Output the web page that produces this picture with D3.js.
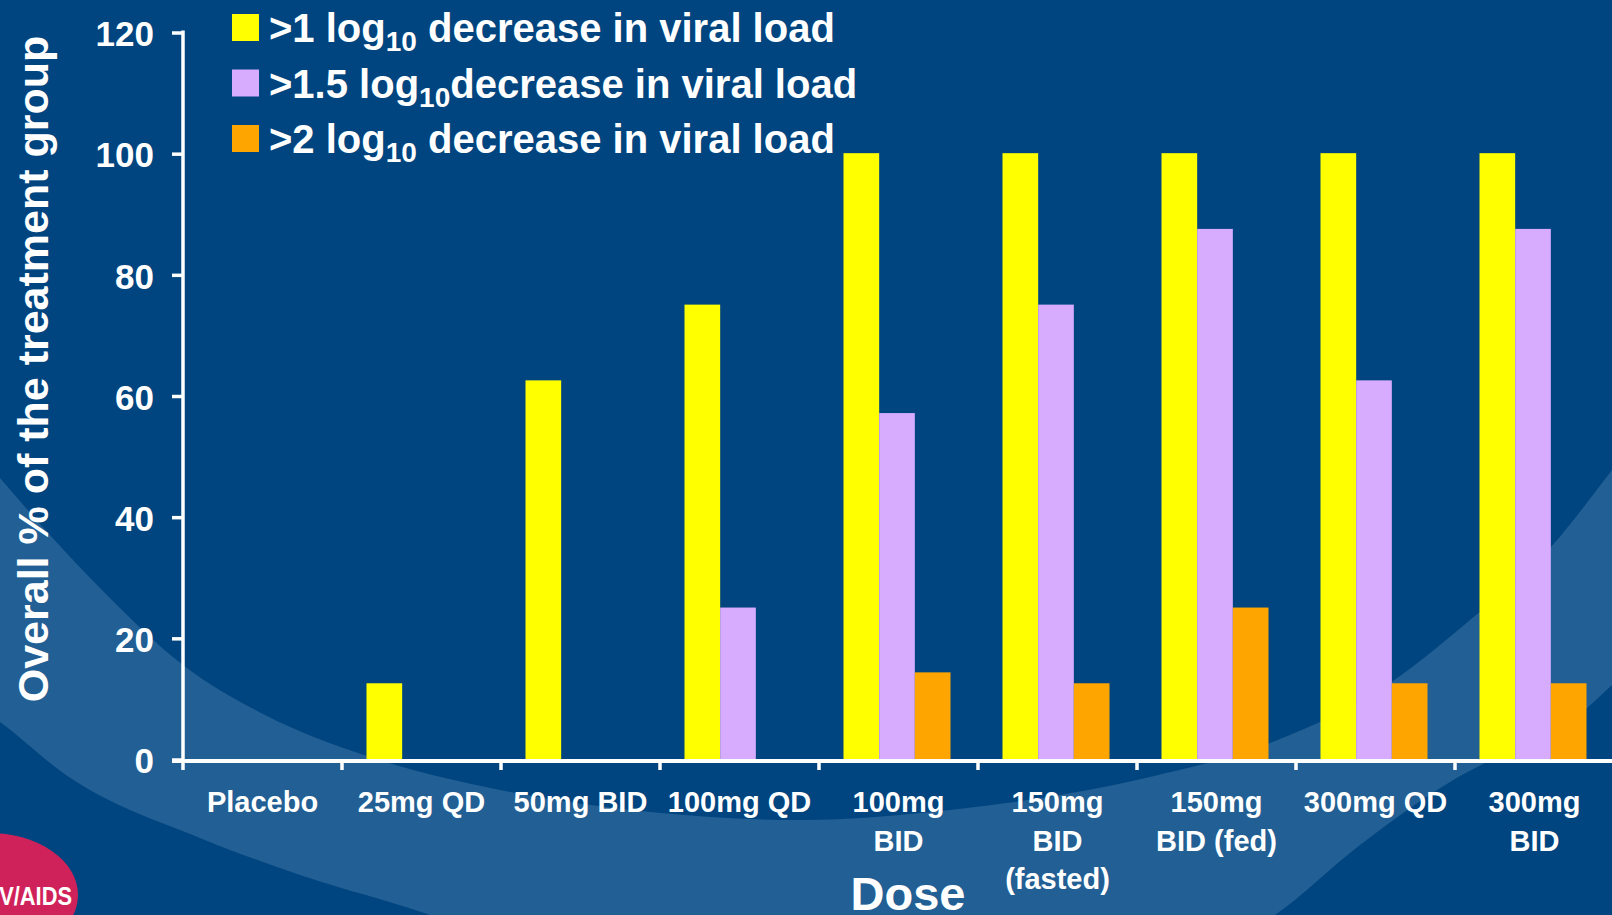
<!DOCTYPE html>
<html lang="en">
<head>
<meta charset="UTF-8">
<title>Viral load decrease by dose</title>
<script src="https://d3js.org/d3.v7.min.js"></script>
<style>
  html, body { margin: 0; padding: 0; background: #00457F; overflow: hidden; }
  svg { display: block; font-family: "Liberation Sans", Arial, sans-serif; font-weight: bold; }
  text { fill: #fff; }
</style>
</head>
<body>
<svg width="1612" height="915"></svg>
<script>
// ---- data ----
const doses = ["Placebo", "25mg QD", "50mg BID", "100mg QD", "100mg BID",
               "150mg BID (fasted)", "150mg BID (fed)", "300mg QD", "300mg BID"];
const doseLabelLines = [["Placebo"], ["25mg QD"], ["50mg BID"], ["100mg QD"], ["100mg", "BID"],
                        ["150mg", "BID", "(fasted)"], ["150mg", "BID (fed)"], ["300mg QD"], ["300mg", "BID"]];
const over1Log  = [0, 12.5, 62.5, 75, 100, 100, 100, 100, 100];
const over15Log = [0, 0, 0, 25, 57.1, 75, 87.5, 62.5, 87.5];
const over2Log  = [0, 0, 0, 0, 14.3, 12.5, 25, 12.5, 12.5];
const seriesKeys = ["gt1", "gt15", "gt2"];
const seriesPrefix = [">1 log", ">1.5 log", ">2 log"];
const seriesSuffix = [" decrease in viral load", "decrease in viral load", " decrease in viral load"];
const seriesColors = ["#FFFF00", "#D7ACFF", "#FFA500"];
const yTicks = [0, 20, 40, 60, 80, 100, 120];

const rows = doses.map((d, i) => ({ dose: d, lines: doseLabelLines[i],
  values: [over1Log[i], over15Log[i], over2Log[i]] }));

const svg = d3.select("svg");
const width = 1612, height = 915;
const plotLeft = 183, plotTop = 32, plotBottom = 759;

// ---- background swoosh (light band, then dark area below it) ----
const upperEdge = [[-40,430],[0,478],[100,588],[183,665],[267,716],[367,756],[500,790],[650,812],
                   [800,820],[950,810],[1150,777],[1270,743],[1390,683],[1470,620],[1550,548],[1612,470],[1650,420]];
const lowerEdge = [[-40,695],[0,722],[66,775],[200,838],[300,875],[430,915],[600,985],[850,1010],
                   [1100,985],[1275,915],[1360,845],[1450,782],[1520,745],[1587,708],[1612,685],[1650,650]];
const band = d3.area().curve(d3.curveMonotoneX).x(d => d[0]).y1(d => d[1]).y0(1100);
svg.append("path").attr("d", band(upperEdge)).attr("fill", "#225F94");
svg.append("path").attr("d", band(lowerEdge)).attr("fill", "#00457F");

// logo corner
svg.append("ellipse").attr("cx", -10).attr("cy", 895).attr("rx", 88).attr("ry", 62).attr("fill", "#D0225A");
svg.append("text").attr("transform", "translate(72,905) scale(0.84,1)").attr("text-anchor", "end")
  .style("font-size", "26px").text("HIV/AIDS");

// ---- scales ----
const x = d3.scaleBand().domain(doses).range([plotLeft, plotLeft + 9 * 159]);
const xSub = d3.scaleBand().domain(seriesKeys).range([24.5, 131.5]);
const y = d3.scaleLinear().domain([0, 120]).range([plotBottom, plotTop]);

// ---- bars ----
svg.append("g").selectAll("g").data(rows).join("g")
  .attr("transform", d => `translate(${x(d.dose)},0)`)
  .selectAll("rect").data(d => d.values.map((v, k) => ({ key: seriesKeys[k], v, k })))
  .join("rect")
  .attr("x", d => xSub(d.key))
  .attr("width", xSub.bandwidth())
  .attr("y", d => y(d.v))
  .attr("height", d => plotBottom - y(d.v))
  .attr("fill", d => seriesColors[d.k]);

// ---- y axis ----
const yAxis = svg.append("g");
yAxis.append("line").attr("x1", plotLeft).attr("x2", plotLeft).attr("y1", y(120) - 1.5).attr("y2", plotBottom + 4)
  .attr("stroke", "#fff").attr("stroke-width", 3.5);
yAxis.selectAll(".tk").data(yTicks).join("line")
  .attr("x1", plotLeft - 11).attr("x2", plotLeft).attr("y1", d => y(d) + 1).attr("y2", d => y(d) + 1)
  .attr("stroke", "#fff").attr("stroke-width", 3.5);
yAxis.selectAll("text").data(yTicks).join("text")
  .attr("x", 154).attr("y", d => y(d) + 1).attr("dy", "0.38em")
  .attr("text-anchor", "end").style("font-size", "35px").text(d => d);

svg.append("text")
  .attr("transform", `translate(48,369) rotate(-90)`)
  .attr("text-anchor", "middle").style("font-size", "43px")
  .text("Overall % of the treatment group");

// ---- x axis ----
const xAxis = svg.append("g");
xAxis.append("line").attr("x1", plotLeft - 11).attr("x2", width).attr("y1", plotBottom + 2).attr("y2", plotBottom + 2)
  .attr("stroke", "#fff").attr("stroke-width", 4);
xAxis.selectAll(".tk").data(doses).join("line")
  .attr("x1", d => x(d)).attr("x2", d => x(d)).attr("y1", plotBottom + 2).attr("y2", plotBottom + 11)
  .attr("stroke", "#fff").attr("stroke-width", 3.5);
xAxis.selectAll("text").data(rows).join("text")
  .attr("text-anchor", "middle").style("font-size", "29px")
  .each(function (d) {
    d3.select(this).selectAll("tspan").data(d.lines).join("tspan")
      .attr("x", x(d.dose) + x.bandwidth() / 2)
      .attr("y", (l, i) => 812 + i * 38.5)
      .text(l => l);
  });

svg.append("text").attr("x", 908).attr("y", 910).attr("text-anchor", "middle")
  .style("font-size", "47px").text("Dose");

// ---- legend ----
const legend = svg.append("g").selectAll("g").data(seriesKeys).join("g")
  .attr("transform", (d, i) => `translate(232,${14 + i * 55.5})`);
legend.append("rect").attr("width", 27).attr("height", 27).attr("fill", (d, i) => seriesColors[i]);
const lt = legend.append("text").attr("x", 37).attr("y", 28).style("font-size", "40px");
lt.append("tspan").text((d, i) => seriesPrefix[i]);
lt.append("tspan").style("font-size", "28px").attr("dy", 9).text("10");
lt.append("tspan").attr("dy", -9).text((d, i) => seriesSuffix[i]);
</script>
</body>
</html>
